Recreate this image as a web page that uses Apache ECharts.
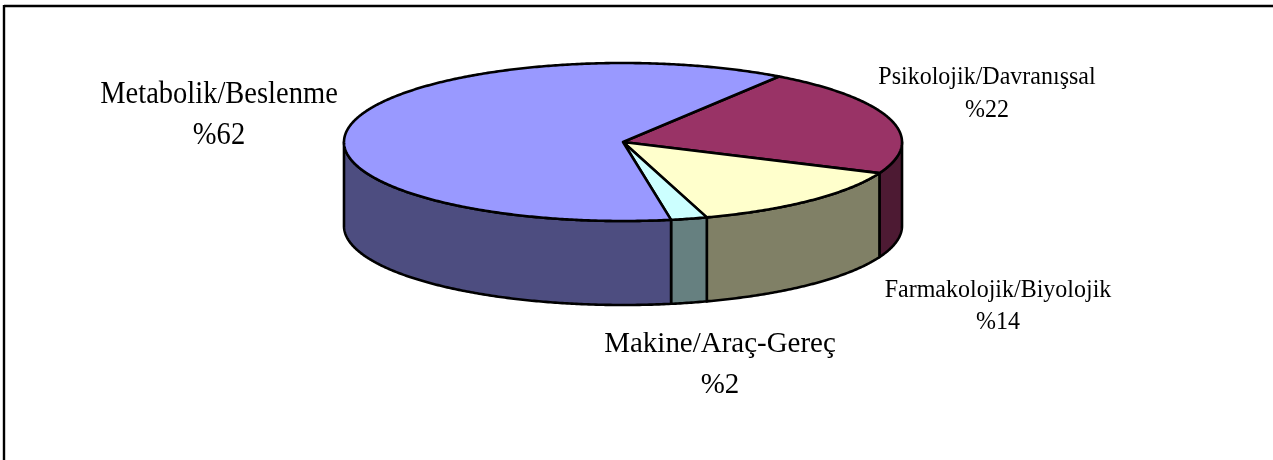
<!DOCTYPE html>
<html>
<head>
    <meta charset="utf-8">
    <style>
        html, body { margin: 0; height: 100%; background: #fff; }
        #main { width: 1273px; height: 460px; }
    </style>
    <script src="https://cdn.jsdelivr.net/npm/echarts@6/dist/echarts.min.js"></script>
</head>
<body>
    <div id="main"></div>
    <script type="text/javascript">
        // slices in drawing order, clockwise from the start angle
        var categories = ['Psikolojik/Davranışsal', 'Farmakolojik/Biyolojik', 'Makine/Araç-Gereç', 'Metabolik/Beslenme'];
        var values = [22, 13.7, 2.1, 62.2];

        var topColors = ['#993366', '#FFFFCC', '#CCFFFF', '#9999FF'];
        var sideColors = ['#4D1A33', '#808066', '#668080', '#4D4D80'];

        // label layout: centre x, name y, percent y, font size, horizontal squeeze
        var labelLayout = [
            [987, 77, 110, 25, 0.96],
            [998, 290, 322, 25, 0.96],
            [720, 344, 385, 30, 0.965],
            [219, 95, 136, 31, 0.92]
        ];

        var cx = 623, cy = 142, rx = 279, ry = 79, depth = 84;
        var startAngle = 56;
        var total = values.reduce(function (a, b) { return a + b; }, 0);

        function sliceAngles(index) {
            var before = 0;
            for (var i = 0; i < index; i++) before += values[i];
            return [startAngle - before / total * 360, startAngle - (before + values[index]) / total * 360];
        }

        function pt(deg, dy) {
            var r = deg * Math.PI / 180;
            return [cx + rx * Math.cos(r), cy - ry * Math.sin(r) + dy];
        }

        function arcPoints(from, to, dy) {
            var pts = [];
            var n = Math.max(2, Math.ceil(Math.abs(to - from) * 2));
            for (var i = 0; i <= n; i++) {
                pts.push(pt(from + (to - from) * i / n, dy));
            }
            return pts;
        }

        // the part of a slice that faces the viewer: angles between -180 and 0
        function renderWall(params, api) {
            var a = sliceAngles(params.dataIndex);
            var from = Math.min(a[0], 0);
            var to = Math.max(a[1], -180);
            if (from <= to) return { type: 'group', children: [] };
            var pts = arcPoints(from, to, 0).concat(arcPoints(to, from, depth));
            return {
                type: 'polygon',
                shape: { points: pts },
                style: { fill: sideColors[params.dataIndex], stroke: '#000', lineWidth: 2.6, lineJoin: 'round' }
            };
        }

        function renderTop(params, api) {
            var a = sliceAngles(params.dataIndex);
            return {
                type: 'polygon',
                shape: { points: [[cx, cy]].concat(arcPoints(a[0], a[1], 0)) },
                style: { fill: topColors[params.dataIndex], stroke: '#000', lineWidth: 2.6, lineJoin: 'round' }
            };
        }

        function labelText(text, x, y, size, squeeze) {
            return {
                type: 'text',
                x: x,
                y: y,
                scaleX: squeeze,
                style: {
                    text: text, x: 0, y: 0, fill: '#000', align: 'center', verticalAlign: 'middle',
                    font: size + 'px "Liberation Serif"'
                }
            };
        }

        function renderLabel(params, api) {
            var l = labelLayout[params.dataIndex];
            return {
                type: 'group',
                children: [
                    labelText(categories[params.dataIndex], l[0], l[1], l[3], l[4]),
                    labelText('%' + Math.round(api.value(0)), l[0], l[2], l[3], l[4])
                ]
            };
        }

        var myChart = echarts.init(document.getElementById('main'), null, { renderer: 'canvas' });
        var option = {
            animation: false,
            backgroundColor: '#fff',
            graphic: [
                { type: 'line', shape: { x1: 4, y1: 6, x2: 1273, y2: 6 }, style: { stroke: '#000', lineWidth: 2.4 } },
                { type: 'line', shape: { x1: 4, y1: 5, x2: 4, y2: 460 }, style: { stroke: '#000', lineWidth: 2.4 } }
            ],
            series: [
                { type: 'custom', coordinateSystem: 'none', data: values, renderItem: renderWall, silent: true, z: 1 },
                { type: 'custom', coordinateSystem: 'none', data: values, renderItem: renderTop, silent: true, z: 2 },
                { type: 'custom', coordinateSystem: 'none', data: values, renderItem: renderLabel, silent: true, z: 3 }
            ]
        };
        myChart.setOption(option);
    </script>
</body>
</html>
